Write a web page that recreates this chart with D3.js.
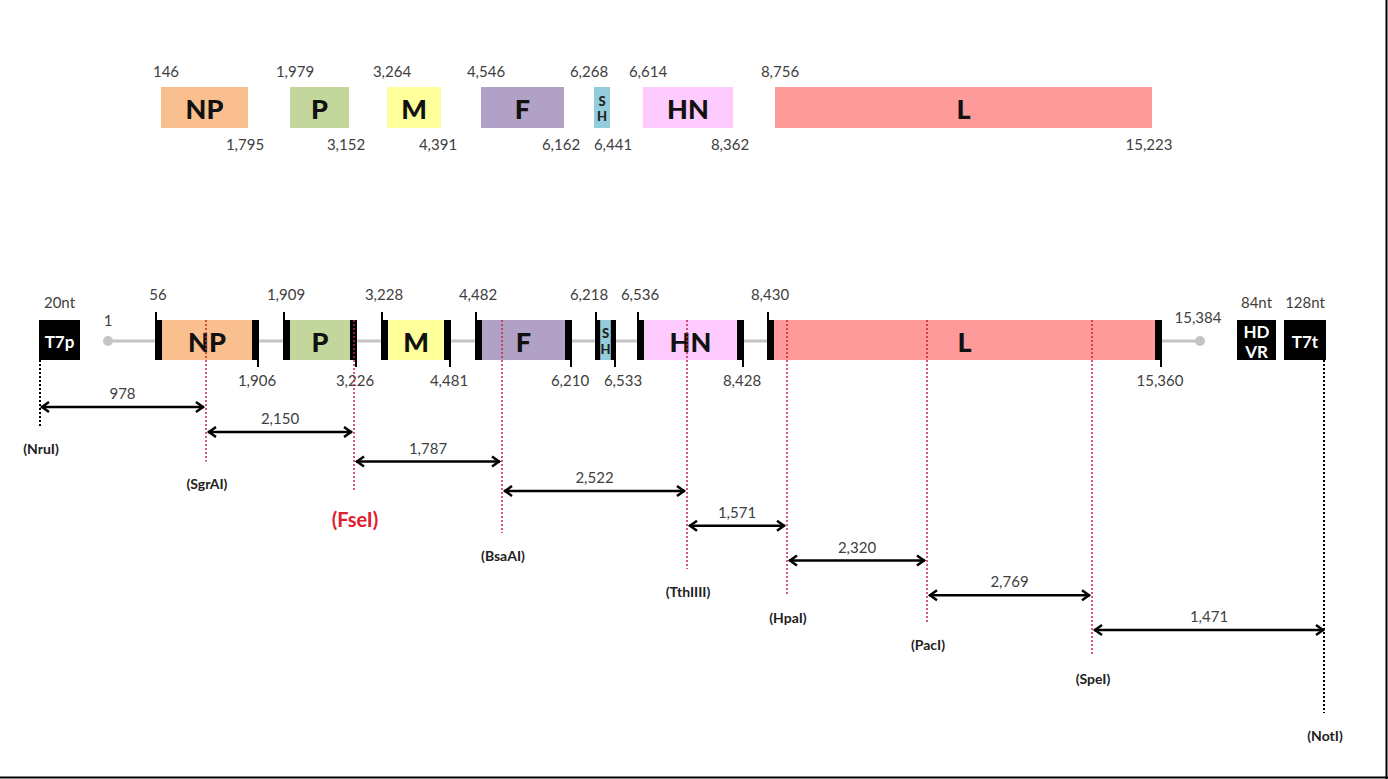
<!DOCTYPE html>
<html><head><meta charset="utf-8">
<script src="https://cdn.jsdelivr.net/npm/d3@7"></script>
<style>body{margin:0;background:#fff}svg{display:block}</style>
</head><body>
<svg id="c" width="1388" height="779"></svg>
<script>
// ---------- DATA ----------
const genes = ["NP", "P", "M", "F", "SH", "HN", "L"];
const geneColors = ["#f9bf8f", "#c3d69b", "#ffff9b", "#b2a1c7", "#93cddd", "#fecbfe", "#ff9a9a"];
// top track (ORF coordinates)
const orfStart = [146, 1979, 3264, 4546, 6268, 6614, 8756];
const orfEnd = [1795, 3152, 4391, 6162, 6441, 8362, 15223];
// bottom track (gene coordinates)
const geneStart = [56, 1909, 3228, 4482, 6218, 6536, 8430];
const geneEnd = [1906, 3226, 4481, 6210, 6533, 8428, 15360];
const genomeEnds = [1, 15384];
// flanking cassette elements (schematic cassette coordinates)
const flanks = ["T7p", "HDVR", "T7t"];
const flankLen = ["20nt", "84nt", "128nt"];
const flankStart = [-40, 15420, 15520];
const flankEnd = [-20, 15504, 15648];
// restriction sites (approximate cassette coordinates) and fragment lengths
const sites = ["NruI", "SgrAI", "FseI", "BsaAI", "TthIIII", "HpaI", "PacI", "SpeI", "NotI"];
const sitePos = [-40, 963, 3173, 4963, 7420, 8781, 11237, 14132, 15648];
const fragLen = [978, 2150, 1787, 2522, 1571, 2320, 2769, 1471];

// ---------- LAYOUT ----------
const svg = d3.select("#c");
const fmt = d3.format(",");
const FONT = "Lato, 'Open Sans', sans-serif";
const numColor = "#404040";
const NUM = 15;

// schematic (piecewise) scales
const topDomain = [];
orfStart.forEach((s, i) => { topDomain.push(s, orfEnd[i]); });
const xTop = d3.scaleLinear().domain(topDomain)
  .range([161, 248, 290, 349, 387, 441, 481, 564, 594, 610, 643, 733, 775, 1152]);

const botDomain = [flankStart[0], flankEnd[0], genomeEnds[0]];
geneStart.forEach((s, i) => { botDomain.push(s, geneEnd[i]); });
botDomain.push(genomeEnds[1], flankStart[1], flankEnd[1], flankStart[2], flankEnd[2]);
const xBot = d3.scaleLinear().domain(botDomain)
  .range([39, 80, 108, 155, 259, 283, 357, 381, 451, 475, 572, 595, 616, 637, 744, 767, 1162, 1200, 1237, 1276, 1284, 1326]);

// level scales for staggered annotations
const arrowY = d3.scaleLinear().domain([0, 1, 3, 7]).range([407, 432, 491, 630]);
const siteLabelY = d3.scaleLinear().domain([0, 2, 4, 6, 7, 8]).range([448, 519, 591, 644, 678, 735]);

// border (right & bottom)
svg.append("line").attr("x1", 1386.5).attr("x2", 1386.5).attr("y1", 0).attr("y2", 779).attr("stroke", "#000").attr("stroke-width", 2);
svg.append("line").attr("x1", 0).attr("x2", 1388).attr("y1", 777.5).attr("y2", 777.5).attr("stroke", "#000").attr("stroke-width", 2);

// ---------- TOP TRACK ----------
const topG = svg.append("g");
const tY0 = 87, tY1 = 128;
genes.forEach((g, i) => {
  const x0 = xTop(orfStart[i]), x1 = xTop(orfEnd[i]);
  topG.append("rect").attr("x", x0).attr("y", tY0).attr("width", x1 - x0).attr("height", tY1 - tY0)
    .attr("fill", geneColors[i]);
  const narrow = (x1 - x0) < 30;
  if (narrow) {
    topG.append("text").attr("x", (x0 + x1) / 2).attr("y", 101).attr("text-anchor", "middle")
      .attr("dominant-baseline", "central").attr("font-family", FONT).attr("font-weight", 900)
      .attr("font-size", 13).attr("fill", "#222").text(g[0]);
    topG.append("text").attr("x", (x0 + x1) / 2).attr("y", 116).attr("text-anchor", "middle")
      .attr("dominant-baseline", "central").attr("font-family", FONT).attr("font-weight", 900)
      .attr("font-size", 13).attr("fill", "#222").text(g[1]);
  } else {
    topG.append("text").attr("x", (x0 + x1) / 2).attr("y", (tY0 + tY1) / 2 + 1).attr("text-anchor", "middle")
      .attr("dominant-baseline", "central").attr("font-family", FONT).attr("font-weight", 900)
      .attr("font-size", 27).attr("fill", "#111").text(g);
  }
  topG.append("text").attr("x", narrow ? x0 - 5 : x0 + 5).attr("y", 77).attr("text-anchor", "middle")
    .attr("font-family", FONT).attr("font-size", NUM).attr("fill", numColor).text(fmt(orfStart[i]));
  topG.append("text").attr("x", narrow ? x1 + 3 : x1 - 3).attr("y", 150).attr("text-anchor", "middle")
    .attr("font-family", FONT).attr("font-size", NUM).attr("fill", numColor).text(fmt(orfEnd[i]));
});

// ---------- BOTTOM TRACK ----------
const bot = svg.append("g");
const bY0 = 320, bY1 = 360, bMid = 341;
// backbone
bot.append("line").attr("x1", xBot(genomeEnds[0])).attr("x2", xBot(genomeEnds[1]))
  .attr("y1", bMid).attr("y2", bMid).attr("stroke", "#c4c4c4").attr("stroke-width", 3);
genomeEnds.forEach((p, i) => {
  bot.append("circle").attr("cx", xBot(p)).attr("cy", bMid).attr("r", 5).attr("fill", "#c4c4c4");
});
bot.append("text").attr("x", xBot(genomeEnds[0])).attr("y", 326).attr("text-anchor", "middle")
  .attr("font-family", FONT).attr("font-size", NUM).attr("fill", numColor).text(fmt(genomeEnds[0]));
bot.append("text").attr("x", xBot(genomeEnds[1]) - 2).attr("y", 323).attr("text-anchor", "middle")
  .attr("font-family", FONT).attr("font-size", NUM).attr("fill", numColor).text(fmt(genomeEnds[1]));

// flanks
flanks.forEach((f, i) => {
  const x0 = xBot(flankStart[i]), x1 = xBot(flankEnd[i]);
  bot.append("rect").attr("x", x0).attr("y", bY0).attr("width", x1 - x0).attr("height", bY1 - bY0).attr("fill", "#000");
  if (f.length > 3) {
    bot.append("text").attr("x", (x0 + x1) / 2).attr("y", 331).attr("text-anchor", "middle")
      .attr("dominant-baseline", "central").attr("font-family", FONT).attr("font-weight", 700)
      .attr("font-size", 17).attr("fill", "#fff").text(f.slice(0, 2));
    bot.append("text").attr("x", (x0 + x1) / 2).attr("y", 351).attr("text-anchor", "middle")
      .attr("dominant-baseline", "central").attr("font-family", FONT).attr("font-weight", 700)
      .attr("font-size", 17).attr("fill", "#fff").text(f.slice(2));
  } else {
    bot.append("text").attr("x", (x0 + x1) / 2).attr("y", bMid).attr("text-anchor", "middle")
      .attr("dominant-baseline", "central").attr("font-family", FONT).attr("font-weight", 700)
      .attr("font-size", 17).attr("fill", "#fff").text(f);
  }
  bot.append("text").attr("x", (x0 + x1) / 2).attr("y", 308).attr("text-anchor", "middle")
    .attr("font-family", FONT).attr("font-size", NUM).attr("fill", numColor).text(flankLen[i]);
});

// genes
genes.forEach((g, i) => {
  const x0 = xBot(geneStart[i]), x1 = xBot(geneEnd[i]);
  const bw = Math.min(7, (x1 - x0) / 4);
  bot.append("rect").attr("x", x0 + bw).attr("y", bY0).attr("width", x1 - x0 - 2 * bw).attr("height", bY1 - bY0)
    .attr("fill", geneColors[i]);
  bot.append("rect").attr("x", x0).attr("y", bY0).attr("width", bw).attr("height", bY1 - bY0).attr("fill", "#000");
  bot.append("rect").attr("x", x1 - bw).attr("y", bY0).attr("width", bw).attr("height", bY1 - bY0).attr("fill", "#000");
  bot.append("line").attr("x1", x0 + 1).attr("x2", x0 + 1).attr("y1", 312).attr("y2", bY0).attr("stroke", "#000").attr("stroke-width", 2);
  bot.append("line").attr("x1", x1 - 1).attr("x2", x1 - 1).attr("y1", bY1).attr("y2", 367).attr("stroke", "#000").attr("stroke-width", 2);
  const narrow = (x1 - x0) < 30;
  if (narrow) {
    bot.append("text").attr("x", (x0 + x1) / 2).attr("y", 333).attr("text-anchor", "middle")
      .attr("dominant-baseline", "central").attr("font-family", FONT).attr("font-weight", 900)
      .attr("font-size", 13).attr("fill", "#222").text(g[0]);
    bot.append("text").attr("x", (x0 + x1) / 2).attr("y", 349).attr("text-anchor", "middle")
      .attr("dominant-baseline", "central").attr("font-family", FONT).attr("font-weight", 900)
      .attr("font-size", 13).attr("fill", "#222").text(g[1]);
  } else {
    bot.append("text").attr("x", (x0 + x1) / 2).attr("y", bMid).attr("text-anchor", "middle")
      .attr("dominant-baseline", "central").attr("font-family", FONT).attr("font-weight", 900)
      .attr("font-size", 27).attr("fill", "#111").text(g);
  }
  bot.append("text").attr("x", narrow ? x0 - 6 : x0 + 3).attr("y", 300).attr("text-anchor", "middle")
    .attr("font-family", FONT).attr("font-size", NUM).attr("fill", numColor).text(fmt(geneStart[i]));
  bot.append("text").attr("x", narrow ? x1 + 7 : x1 - 2).attr("y", 386).attr("text-anchor", "middle")
    .attr("font-family", FONT).attr("font-size", NUM).attr("fill", numColor).text(fmt(geneEnd[i]));
});

// ---------- RESTRICTION SITES ----------
const ann = svg.append("g");
sites.forEach((s, i) => {
  const outer = (i === 0 || i === sites.length - 1);
  const x = xBot(sitePos[i]) + (i === 0 ? 1 : (i === sites.length - 1 ? -2 : 0));
  const ly = siteLabelY(i);
  const isF = s === "FseI";
  ann.append("line").attr("x1", x).attr("x2", x)
    .attr("y1", outer ? bY1 : bY0).attr("y2", ly - (isF ? 27 : 22))
    .attr("stroke", outer ? "#000" : "#c0283a").attr("stroke-width", outer ? 2 : 1.5)
    .attr("stroke-dasharray", "2,2");
  ann.append("text").attr("x", x + 1).attr("y", ly).attr("text-anchor", "middle")
    .attr("dominant-baseline", "central").attr("font-family", FONT).attr("font-weight", 700)
    .attr("font-size", isF ? 20 : 14).attr("fill", isF ? "#e0202f" : "#222")
    .text("(" + s + ")");
});

// fragment arrows
fragLen.forEach((d, i) => {
  const x0 = xBot(sitePos[i]) + 2, x1 = xBot(sitePos[i + 1]) - 2;
  const y = arrowY(i);
  ann.append("line").attr("x1", x0).attr("x2", x1).attr("y1", y).attr("y2", y)
    .attr("stroke", "#000").attr("stroke-width", 2.5);
  ann.append("path").attr("d", `M${x0 + 8},${y - 5}L${x0 + 1},${y}L${x0 + 8},${y + 5}`)
    .attr("fill", "none").attr("stroke", "#000").attr("stroke-width", 2.5);
  ann.append("path").attr("d", `M${x1 - 8},${y - 5}L${x1 - 1},${y}L${x1 - 8},${y + 5}`)
    .attr("fill", "none").attr("stroke", "#000").attr("stroke-width", 2.5);
  ann.append("text").attr("x", (x0 + x1) / 2).attr("y", y - 8).attr("text-anchor", "middle")
    .attr("font-family", FONT).attr("font-size", NUM).attr("fill", numColor).text(fmt(d));
});
</script>
</body></html>
